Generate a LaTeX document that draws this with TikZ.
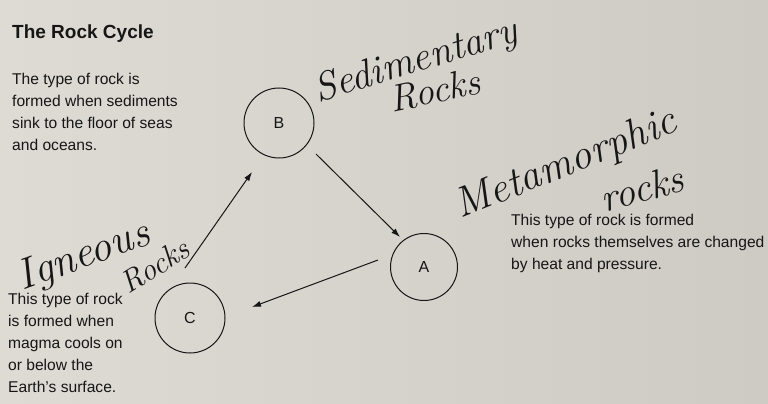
\documentclass[tikz,border=0pt]{standalone}
\usepackage{fontspec}
\setmainfont{Liberation Sans}
\usetikzlibrary{arrows.meta,calc}
\definecolor{paper}{RGB}{222,219,213}
\definecolor{paperdark}{RGB}{206,202,196}
\definecolor{ink}{RGB}{22,22,22}
\newfontfamily\handfont{Latin Modern Roman}
\tikzset{
  print/.style={text=ink,font=\fontsize{15.6}{22}\selectfont,align=left,anchor=north west,inner sep=0pt},
  rockcircle/.style={circle,draw=ink,line width=1pt,minimum size=70pt,inner sep=0pt,text=ink,font=\fontsize{16}{16}\selectfont},
  hand/.style={text=ink,inner sep=0pt},
  arr/.style={draw=ink,line width=1pt,-{Latex[length=9pt,width=6pt]}}
}
\begin{document}
\begin{tikzpicture}[x=1pt,y=-1pt]
\useasboundingbox (0,0) rectangle (768,404);
\shade[left color=paper,right color=paperdark] (0,0) rectangle (768,404);
% title and texts
\node[print,font=\bfseries\fontsize{19}{22}\selectfont] (title) at (12,25) {The Rock Cycle};
\node[print] (sedtext) at (12,73) {The type of rock is\\formed when sediments\\sink to the floor of seas\\and oceans.};
\node[print] (metatext) at (511,214) {This type of rock is formed\\when rocks themselves are changed\\by heat and pressure.};
\node[print] (igntext) at (8,293) {This type of rock\\is formed when\\magma cools on\\or below the\\Earth's surface.};
% circles
\node[rockcircle] (B) at (279,123) {B};
\node[rockcircle,minimum size=67pt] (A) at (424,267) {A};
\node[rockcircle] (C) at (190,318) {C};
% arrows
\draw[arr] ($(B)+(37,31)$) -- ($(A)+(-24,-30)$);
\draw[arr] ($(A)+(-46,-7)$) -- ($(C)+(62,-11)$);
\draw[arr] ($(C)+(-5,-50)$) -- ($(B)+(-27,49)$);
% handwritten labels
\node[hand,font=\handfont\itshape\fontsize{40}{40}\selectfont,rotate=17] (sedlab) at (416,62) {Sedimentary};
\node[hand,font=\handfont\itshape\fontsize{38}{38}\selectfont,rotate=12] (sedrocks) at (435,90) {Rocks};
\node[hand,font=\handfont\itshape\fontsize{42}{42}\selectfont,rotate=22] (metalab) at (566,165) {Metamorphic};
\node[hand,font=\handfont\itshape\fontsize{40}{40}\selectfont,rotate=15] (metarocks) at (642,188) {rocks};
\node[hand,font=\handfont\itshape\fontsize{43}{43}\selectfont,rotate=20] (ignlab) at (84,257) {Igneous};
\node[hand,font=\handfont\itshape\fontsize{31}{31}\selectfont,rotate=32] (ignrocks) at (155,266) {Rocks};
\end{tikzpicture}
\end{document}
